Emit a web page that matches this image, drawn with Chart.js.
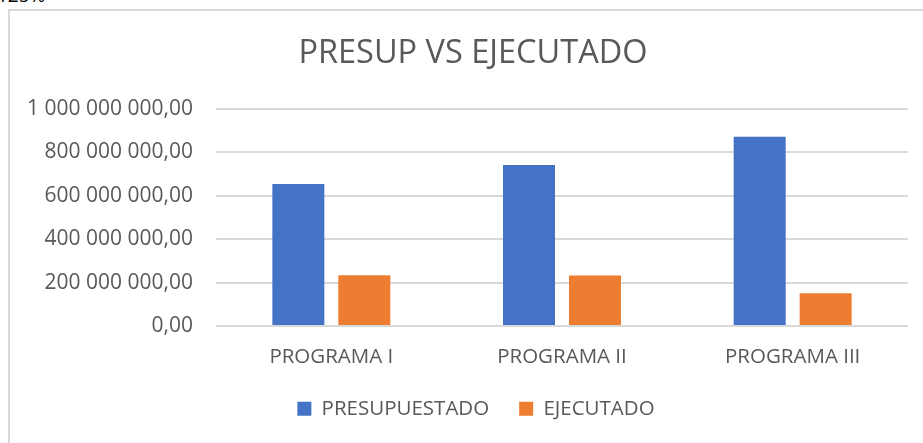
<!DOCTYPE html>
<html>
<head>
<meta charset="utf-8">
<script src="https://cdn.jsdelivr.net/npm/chart.js@4"></script>
<style>
  html, body { margin: 0; padding: 0; background: #fff; }
  body { width: 923px; height: 443px; position: relative; overflow: hidden; }
  #frame { position: absolute; left: 8px; top: 9px; width: 1000px; height: 600px;
           border-left: 2px solid #d9d9d9; border-top: 2px solid #d9d9d9; }
  #cut { position: absolute; left: -3px; top: -18px; font: 19px "Open Sans", sans-serif; color: #000; }
  #chart-wrap { position: absolute; left: 0; top: 0; width: 923px; height: 443px; }
</style>
</head>
<body>
<div id="cut">125%</div>
<div id="frame"></div>
<div id="chart-wrap"><canvas id="myBarChart"></canvas></div>
<script>
// chart data
var categories = ['PROGRAMA I', 'PROGRAMA II', 'PROGRAMA III'];
var presupuestado = [654000000, 742000000, 872000000];
var ejecutado = [234000000, 232000000, 151000000];
var seriesNames = ['PRESUPUESTADO', 'EJECUTADO'];

// 1234567.5 -> "1 234 567,50"
function formatNumber(value) {
  var parts = Number(value).toFixed(2).split('.');
  parts[0] = parts[0].replace(/\B(?=(\d{3})+(?!\d))/g, ' ');
  return parts[0] + ',' + parts[1];
}

var textColor = '#595959';
var fontFamily = '"Open Sans", sans-serif';

// legend: wide gap between items but less room taken;
// legend and title sit a bit right of the canvas centre
var layoutTweak = {
  id: 'layoutTweak',
  beforeLayout: function(chart) {
    var lg = chart.legend;
    if (lg && !lg._tweaked) {
      var origFit = lg.fit;
      lg.fit = function() {
        origFit.call(this);
        this.height -= 20;
      };
      lg._tweaked = true;
    }
  },
  afterLayout: function(chart) {
    chart.legend.left += 22;
    chart.legend.right += 22;
    chart.legend.top -= 20;
    chart.titleBlock.left += 19;
    chart.titleBlock.right += 19;
  }
};

window.onload = function() {
  var ctx = document.getElementById('myBarChart').getContext('2d');

  var myBarChart = new Chart(ctx, {
    type: 'bar',
    data: {
      labels: categories,
      datasets: [{
        label: seriesNames[0],
        data: presupuestado,
        backgroundColor: '#4472C4',
        categoryPercentage: 0.572,
        barPercentage: 0.788
      }, {
        label: seriesNames[1],
        data: ejecutado,
        backgroundColor: '#ED7D31',
        categoryPercentage: 0.572,
        barPercentage: 0.788
      }]
    },
    plugins: [layoutTweak],
    options: {
      responsive: true,
      maintainAspectRatio: false,
      animation: false,
      layout: {
        padding: { left: 0, right: 15, top: 0, bottom: 14 }
      },
      plugins: {
        title: {
          display: true,
          text: 'PRESUP VS EJECUTADO',
          color: textColor,
          font: { family: fontFamily, size: 32.5, weight: 'normal' },
          padding: { top: 34, bottom: 36 }
        },
        legend: {
          position: 'bottom',
          labels: {
            color: textColor,
            font: { family: fontFamily, size: 20.5 },
            boxWidth: 14,
            boxHeight: 14,
            padding: 30
          }
        },
        tooltip: { enabled: false }
      },
      scales: {
        x: {
          grid: { display: false, drawTicks: false },
          border: { display: false },
          ticks: {
            color: textColor,
            font: { family: fontFamily, size: 20.5 },
            padding: 19
          }
        },
        y: {
          min: 0,
          max: 1000000000,
          afterFit: function(scale) { scale.width = 216; },
          grid: { color: '#d9d9d9', lineWidth: 2, drawTicks: false },
          border: { display: false },
          ticks: {
            stepSize: 200000000,
            color: textColor,
            font: { family: fontFamily, size: 21 },
            padding: 23,
            callback: function(value) { return formatNumber(value); }
          }
        }
      }
    }
  });
};
</script>
</body>
</html>
